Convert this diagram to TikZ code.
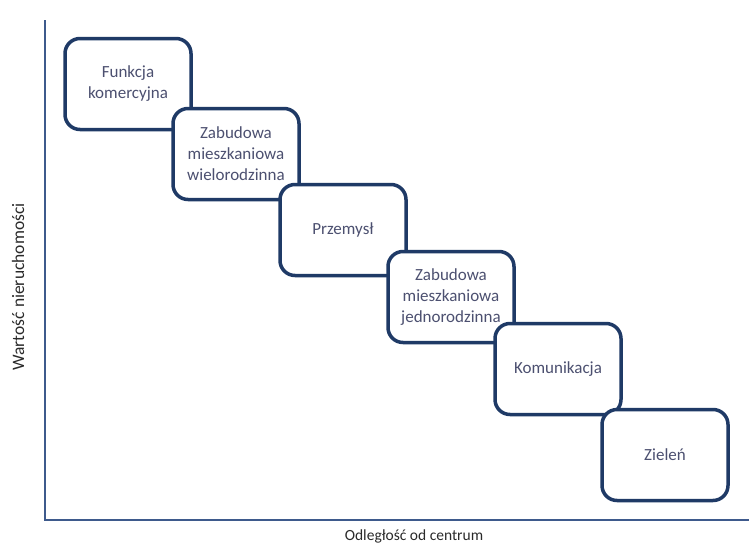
\documentclass[tikz,border=0pt]{standalone}
\usepackage{fontspec}
\setmainfont{Carlito}
\begin{document}
\begin{tikzpicture}[x=1pt,y=-1pt,
  zone/.style={draw=boxc, line width=3.5pt, rounded corners=15pt, fill=white,
    minimum width=126pt, minimum height=91pt, align=center,
    text=txtc, font=\fontsize{17}{21}\selectfont, inner sep=2pt},
  axis/.style={draw=axc, line width=2pt},
  axlabel/.style={text=lblc, font=\fontsize{15.5}{17}\selectfont}]
\definecolor{boxc}{HTML}{1F3A66}
\definecolor{txtc}{HTML}{4C5070}
\definecolor{axc}{HTML}{3E5A8C}
\definecolor{lblc}{HTML}{2A2A2A}
\useasboundingbox (0,0) rectangle (749,546);
\fill[white] (0,0) rectangle (749,546);
\coordinate (o) at (45,520);
\coordinate (ytop) at (45,20);
\coordinate (xend) at (749,520);
\draw[axis] (ytop) -- (o) -- (xend);
\node[zone] (b1) at (128,84) {Funkcja\\komercyjna};
\node[zone] (b2) at (236,154) {Zabudowa\\mieszkaniowa\\wielorodzinna};
\node[zone] (b3) at (343,230) {Przemysł};
\node[zone] (b4) at (451,297) {Zabudowa\\mieszkaniowa\\jednorodzinna};
\node[zone] (b5) at (558,369) {Komunikacja};
\node[zone] (b6) at (665,455) {Zieleń};
\node[axlabel] (xl) at (414,536) {Odległość od centrum};
\node[axlabel, font=\fontsize{17.5}{19}\selectfont, rotate=90] (yl) at (18,287) {Wartość nieruchomości};
\end{tikzpicture}
\end{document}
